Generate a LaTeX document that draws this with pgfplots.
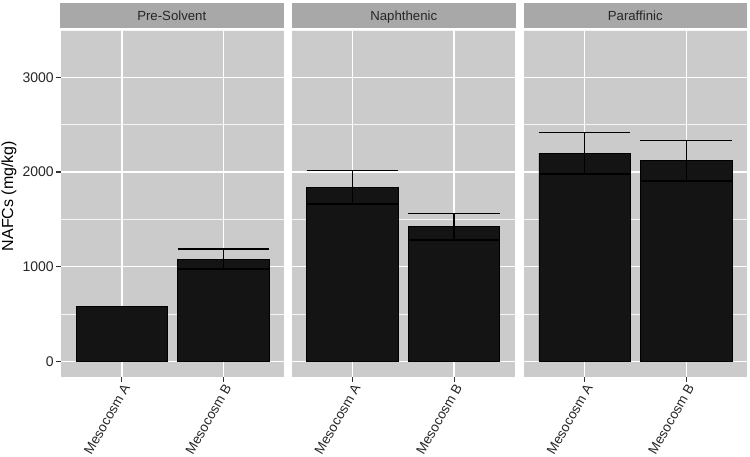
\documentclass[border=0pt]{standalone}
\usepackage{fontspec}
\setmainfont{Liberation Sans}
\usepackage{pgfplots}
\pgfplotsset{compat=1.18}

\definecolor{panelbg}{HTML}{CBCBCB}
\definecolor{stripbg}{HTML}{A8A8A8}
\definecolor{barfill}{HTML}{141414}
\definecolor{tickcol}{HTML}{333333}

\pgfplotsset{
  facet/.style={
    scale only axis, width=223.5pt, height=347pt, anchor=south west,
    xmin=0.4, xmax=2.6, ymin=-162, ymax=3506,
    axis line style={draw=none},
    axis background/.style={fill=panelbg},
    xtick={1,2}, xticklabels={Mesocosm A, Mesocosm B},
    ytick={0,1000,2000,3000}, minor ytick={500,1500,2500,3500},
    grid=both,
    major grid style={white, line width=1.3pt},
    minor grid style={white!80!panelbg, line width=0.7pt},
    tick pos=left,
    tick align=outside, major tick length=5pt, minor tick length=0pt,
    every major tick/.append style={tickcol, line width=1.1pt},
    /pgf/number format/assume math mode=true,
    /pgf/number format/1000 sep={},
    scaled y ticks=false,
    xticklabel style={rotate=60, anchor=north east, inner sep=1pt,
      font=\fontsize{13.5}{14}\selectfont, text=black!85},
    yticklabel style={font=\fontsize{14}{14}\selectfont, text=black!85, inner sep=2pt},
    clip=false,
  },
  inner/.style={facet, yticklabels={}, every major y tick/.append style={draw=none}},
  bars/.style={ybar, bar width=0.9, bar shift=0, fill=barfill, draw=black, line width=0.8pt,
    error bars/.cd, y dir=both, y explicit,
    error bar style={black, line width=1.3pt},
    error mark options={black, rotate=90, mark size=45.8pt, line width=1.3pt}},
}

\begin{document}
\begin{tikzpicture}[x=1pt, y=1pt]

% Pre-Solvent
\begin{axis}[facet, at={(60,84)}]
  \addplot[bars] coordinates {(1,580) +- (0,0) (2,1080) +- (0,105)};
\end{axis}

% Naphthenic
\begin{axis}[inner, at={(287,84)}]
  \addplot[bars] coordinates {(1,1840) +- (0,178) (2,1420) +- (0,140)};
\end{axis}

% Paraffinic
\begin{axis}[inner, at={(515.5,84)}]
  \addplot[bars] coordinates {(1,2200) +- (0,220) (2,2120) +- (0,215)};
\end{axis}

% facet strips
\foreach \xa/\lab in {60/Pre-Solvent, 292/Naphthenic, 523.5/Paraffinic}{
  \fill[stripbg] (\xa,428) rectangle ++(223.5,25);
  \node[anchor=base, font=\fontsize{13.2}{14}\selectfont, text=black!85] at (\xa+111.75,435.5) {\lab};
}

% y axis title
\node[rotate=90, font=\fontsize{16}{16}\selectfont] at (9,260) {NAFCs (mg/kg)};

\pgfresetboundingbox
\useasboundingbox (0,0) rectangle (750,456);
\end{tikzpicture}
\end{document}
